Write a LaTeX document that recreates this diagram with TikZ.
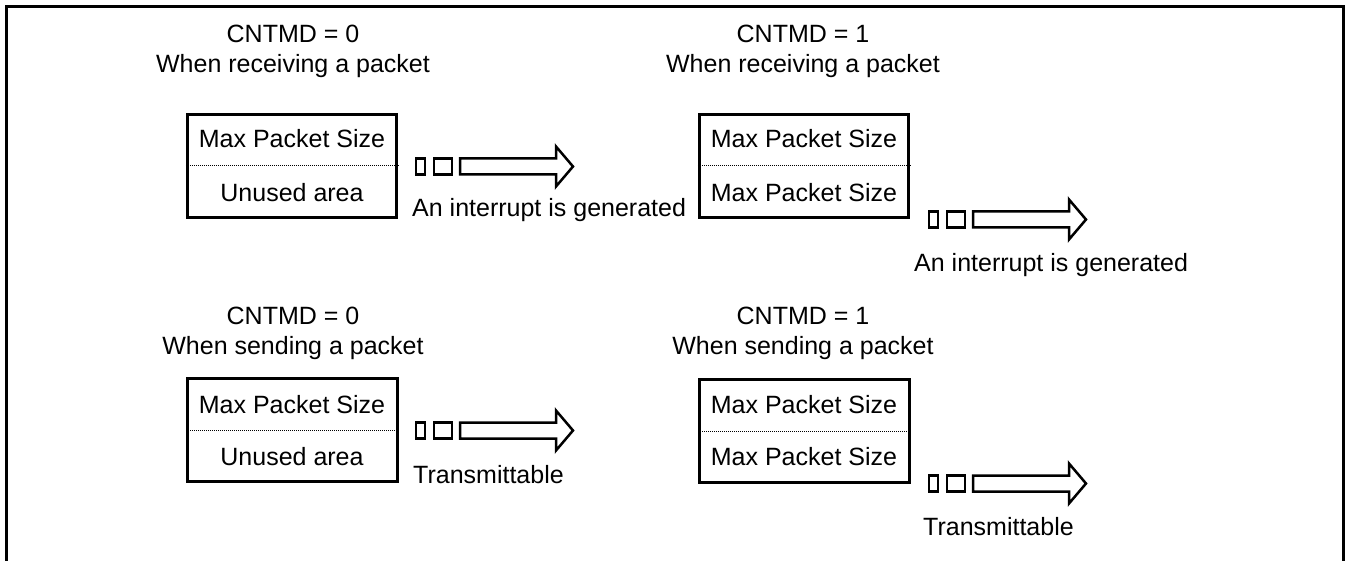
\documentclass[tikz,border=0pt]{standalone}
\usepackage{fontspec}
\setmainfont{Liberation Sans}
\begin{document}
\begin{tikzpicture}[x=1pt,y=-1pt,
  font=\fontsize{25}{30}\selectfont,
  frame/.style={line width=3pt},
  buf/.style={draw, line width=3pt, inner sep=0pt, minimum width=209.5, minimum height=103.5},
  sep/.style={line width=1pt, dash pattern=on 1pt off 1pt},
  lbl/.style={inner sep=0pt, anchor=base},
  lblw/.style={inner sep=0pt, anchor=base west},
  sigarrow/.pic={
    \draw[line width=2.5pt] (18,-8) rectangle (27,8);
    \draw[line width=2.5pt] (36,-8) rectangle (54,8);
    \draw[line width=2.5pt, miter limit=10] (62,-8) -- (158,-8) -- (158,-20) -- (175,0) -- (158,20) -- (158,8) -- (62,8) -- cycle;
  }]
\useasboundingbox (0,0) rectangle (1347,561);
\draw[frame] (6,562) -- (6,7) -- (1343,7) -- (1343,562);

% headers
\node[lbl] (h1a) at (293,43) {CNTMD = 0};
\node[lbl] (h1b) at (293,73) {When receiving a packet};
\node[lbl] (h2a) at (803,43) {CNTMD = 1};
\node[lbl] (h2b) at (803,73) {When receiving a packet};
\node[lbl] (h3a) at (293,325) {CNTMD = 0};
\node[lbl] (h3b) at (293,355) {When sending a packet};
\node[lbl] (h4a) at (803,325) {CNTMD = 1};
\node[lbl] (h4b) at (803,355) {When sending a packet};

% buffers
\node[buf] (b1) at (292,166) {};
\node[buf] (b2) at (804,166) {};
\node[buf] (b3) at (292.5,430) {};
\node[buf] (b4) at (804.5,431) {};
\draw[sep] (b1.west) -- (b1.east);
\draw[sep] (b2.west) -- (b2.east);
\draw[sep] (b3.west) -- (b3.east);
\draw[sep] (b4.west) -- (b4.east);

\node[lbl] (t1a) at (292,148) {Max Packet Size};
\node[lbl] (t1b) at (292,202) {Unused area};
\node[lbl] (t2a) at (804,148) {Max Packet Size};
\node[lbl] (t2b) at (804,202) {Max Packet Size};
\node[lbl] (t3a) at (292,413) {Max Packet Size};
\node[lbl] (t3b) at (292,465) {Unused area};
\node[lbl] (t4a) at (804,413) {Max Packet Size};
\node[lbl] (t4b) at (804,465) {Max Packet Size};

% arrows
\pic at (398,166.5) {sigarrow};
\pic at (911,219.5) {sigarrow};
\pic at (398,430.5) {sigarrow};
\pic at (911,483.5) {sigarrow};

\node[lblw] (l1) at (412,217) {An interrupt is generated};
\node[lblw] (l2) at (914,272) {An interrupt is generated};
\node[lblw] (l3) at (413,483) {Transmittable};
\node[lblw] (l4) at (923,535) {Transmittable};
\end{tikzpicture}
\end{document}
